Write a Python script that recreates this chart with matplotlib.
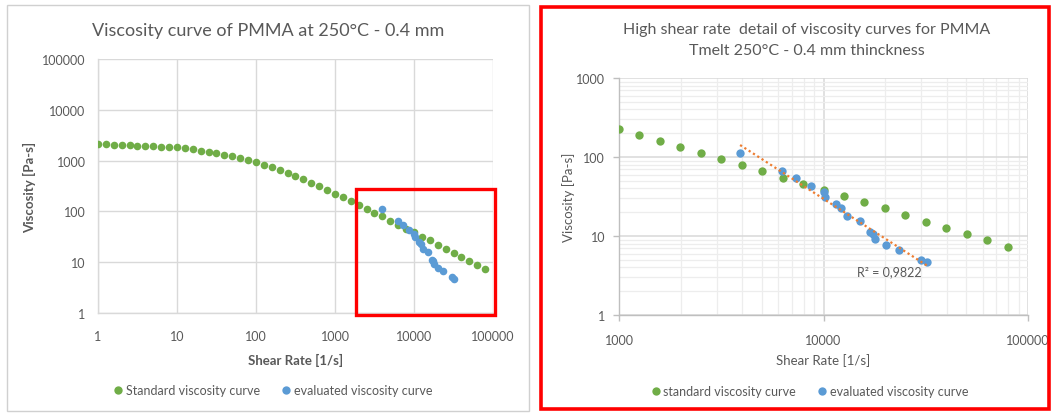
import numpy as np
import matplotlib
matplotlib.use("Agg")
import matplotlib.pyplot as plt
from matplotlib.patches import Rectangle
from matplotlib.lines import Line2D
from matplotlib.ticker import FixedLocator, FixedFormatter, LogLocator, NullFormatter

plt.rcParams['font.family'] = ['Lato', 'DejaVu Sans']

# ---------------- data ----------------
std_shear = [1, 1.259, 1.585, 1.995, 2.512, 3.162, 3.981, 5.012, 6.310, 7.943,
             10, 12.59, 15.85, 19.95, 25.12, 31.62, 39.81, 50.12, 63.10, 79.43,
             100, 125.9, 158.5, 199.5, 251.2, 316.2, 398.1, 501.2, 631.0, 794.3,
             1000, 1259, 1585, 1995, 2512, 3162, 3981, 5012, 6310, 7943,
             10000, 12589, 15849, 19953, 25119, 31623, 39811, 50119, 63096, 79433]
std_visc = [2080, 2080, 2070, 2020, 1990, 1960, 1930, 1900, 1890, 1860,
            1815, 1760, 1680, 1560, 1470, 1400, 1300, 1230, 1120, 1010,
            920, 830, 745, 660, 568, 495, 426, 367, 310, 267,
            223, 190, 161, 135, 112, 95, 80, 66, 55, 46,
            38.5, 32, 26.8, 22.3, 18.2, 15.1, 12.7, 10.5, 8.85, 7.36]

eval_shear = [3910, 6300, 7350, 8710, 10090, 10160, 11500, 12130, 12980, 15130,
              16940, 17520, 17870, 20290, 23390, 29850, 32200]
eval_visc = [111, 65.9, 54.2, 43.3, 35.7, 30.9, 25.4, 22.6, 18.1, 15.6,
             11.3, 10.5, 9.2, 7.8, 6.7, 5.0, 4.65]

left_ticks = [1, 10, 100, 1000, 10000, 100000]
left_tick_labels = ["1", "10", "100", "1000", "10000", "100000"]
right_xticks = [1000, 10000, 100000]
right_xtick_labels = ["1000", "10000", "100000"]
right_yticks = [1, 10, 100, 1000]
right_ytick_labels = ["1", "10", "100", "1000"]

r2_label = "R² = 0,9822"

# ---------------- style ----------------
GREEN = "#70AD47"
BLUE = "#5B9BD5"
ORANGE = "#ED7D31"
TXT = "#595959"
GRID = "#d9d9d9"
MINOR = "#ededed"

W, H = 1052, 414
fig = plt.figure(figsize=(W / 100, H / 100), dpi=100)
fig.patch.set_facecolor("white")


def fx(px):
    return px / W


def fy(py):
    return 1 - py / H


# panel borders
fig.patches.append(Rectangle((fx(7), fy(412)), fx(522), (412 - 6) / H,
                             transform=fig.transFigure, fill=False,
                             edgecolor="#d0d0d0", linewidth=1.0, zorder=0))
fig.patches.append(Rectangle((fx(541.5), fy(410)), fx(507), (410 - 7.5) / H,
                             transform=fig.transFigure, fill=False,
                             edgecolor="#ff0000", linewidth=2.6, zorder=0))

# ---------------- left chart ----------------
axL = fig.add_axes([fx(98), fy(314), fx(395), (314 - 60) / H])
axL.set_xscale("log")
axL.set_yscale("log")
axL.set_xlim(1, 100000)
axL.set_ylim(1, 100000)
axL.scatter(std_shear, std_visc, s=30, color=GREEN, zorder=3, linewidths=0)
axL.scatter(eval_shear, eval_visc, s=30, color=BLUE, zorder=4, linewidths=0)
for ax_ in (axL.xaxis, axL.yaxis):
    ax_.set_major_locator(FixedLocator(left_ticks))
    ax_.set_major_formatter(FixedFormatter(left_tick_labels))
    ax_.set_minor_locator(FixedLocator([]))
    ax_.set_minor_formatter(NullFormatter())
axL.tick_params(axis="both", which="major", length=0, labelsize=9, labelcolor=TXT)
axL.tick_params(axis="y", pad=9)
axL.tick_params(axis="x", pad=12)
axL.grid(True, which="major", color=GRID, linewidth=1.0, zorder=0)
axL.set_axisbelow(True)
for s in ("top", "right"):
    axL.spines[s].set_visible(False)
for s in ("left", "bottom"):
    axL.spines[s].set_color(GRID)
    axL.spines[s].set_linewidth(1.0)
axL.set_xlabel("Shear Rate [1/s]", fontsize=9.5, fontweight="bold", color=TXT, labelpad=8)
axL.set_ylabel("Viscosity [Pa-s]", fontsize=9.5, fontweight="bold", color=TXT, labelpad=4)
fig.text(fx(268), fy(31), "Viscosity curve of PMMA at 250°C - 0.4 mm",
         ha="center", va="center", fontsize=13, color=TXT)

# highlight box on left chart
fig.patches.append(Rectangle((fx(356), fy(316)), fx(495 - 356), (316 - 190) / H,
                             transform=fig.transFigure, fill=False,
                             edgecolor="#ff0000", linewidth=2.4, zorder=10))

legL = [Line2D([], [], marker="o", linestyle="none", markersize=6,
               markerfacecolor=GREEN, markeredgewidth=0, label="Standard viscosity curve"),
        Line2D([], [], marker="o", linestyle="none", markersize=6,
               markerfacecolor=BLUE, markeredgewidth=0, label="evaluated viscosity curve")]
fig.legend(handles=legL, loc="center", bbox_to_anchor=(fx(272), fy(391)), ncol=2,
           frameon=False, fontsize=9, labelcolor=TXT, handletextpad=0.1,
           columnspacing=1.6, handlelength=1.0)

# ---------------- right chart ----------------
axR = fig.add_axes([fx(619), fy(316), fx(409), (316 - 79) / H])
axR.set_xscale("log")
axR.set_yscale("log")
axR.set_xlim(1000, 100000)
axR.set_ylim(1, 1000)
axR.scatter(std_shear[30:], std_visc[30:], s=36, color=GREEN, zorder=3, linewidths=0)
axR.scatter(eval_shear, eval_visc, s=36, color=BLUE, zorder=4, linewidths=0)

# power-law trendline fitted to evaluated data
lx = np.log10(eval_shear)
ly = np.log10(eval_visc)
b, a = np.polyfit(lx, ly, 1)
xs = np.array([min(eval_shear), max(eval_shear)])
axR.plot(xs, 10 ** (a + b * np.log10(xs)), linestyle=(0, (1, 1.3)), color=ORANGE,
         linewidth=1.6, zorder=5)
axR.text(20900, 3.6, r2_label, ha="center", va="center", fontsize=9, color=TXT, zorder=6)

axR.xaxis.set_major_locator(FixedLocator(right_xticks))
axR.xaxis.set_major_formatter(FixedFormatter(right_xtick_labels))
axR.yaxis.set_major_locator(FixedLocator(right_yticks))
axR.yaxis.set_major_formatter(FixedFormatter(right_ytick_labels))
for ax_ in (axR.xaxis, axR.yaxis):
    ax_.set_minor_locator(LogLocator(base=10, subs=np.arange(2, 10)))
    ax_.set_minor_formatter(NullFormatter())
axR.tick_params(axis="both", which="major", length=4, color="#bfbfbf", width=1.0,
                labelsize=9, labelcolor=TXT)
axR.tick_params(axis="both", which="minor", length=0)
axR.tick_params(axis="y", pad=6)
axR.tick_params(axis="x", pad=10)
axR.grid(True, which="minor", color=MINOR, linewidth=0.9, zorder=0)
axR.grid(True, which="major", color=GRID, linewidth=1.1, zorder=0)
axR.set_axisbelow(True)
for s in ("top", "right"):
    axR.spines[s].set_visible(False)
for s in ("left", "bottom"):
    axR.spines[s].set_color("#bfbfbf")
    axR.spines[s].set_linewidth(1.0)
axR.set_xlabel("Shear Rate [1/s]", fontsize=9.5, color=TXT, labelpad=5)
axR.set_ylabel("Viscosity [Pa-s]", fontsize=9.5, color=TXT, labelpad=1)
fig.text(fx(807), fy(30), "High shear rate  detail of viscosity curves for PMMA",
         ha="center", va="center", fontsize=11.5, color=TXT)
fig.text(fx(807), fy(51), "Tmelt 250°C - 0.4 mm thinckness",
         ha="center", va="center", fontsize=11.5, color=TXT)

legR = [Line2D([], [], marker="o", linestyle="none", markersize=6,
               markerfacecolor=GREEN, markeredgewidth=0, label="standard viscosity curve"),
        Line2D([], [], marker="o", linestyle="none", markersize=6,
               markerfacecolor=BLUE, markeredgewidth=0, label="evaluated viscosity curve")]
fig.legend(handles=legR, loc="center", bbox_to_anchor=(fx(809), fy(392)), ncol=2,
           frameon=False, fontsize=9, labelcolor=TXT, handletextpad=0.1,
           columnspacing=1.6, handlelength=1.0)

fig.savefig("out.png", dpi=100, facecolor="white")
